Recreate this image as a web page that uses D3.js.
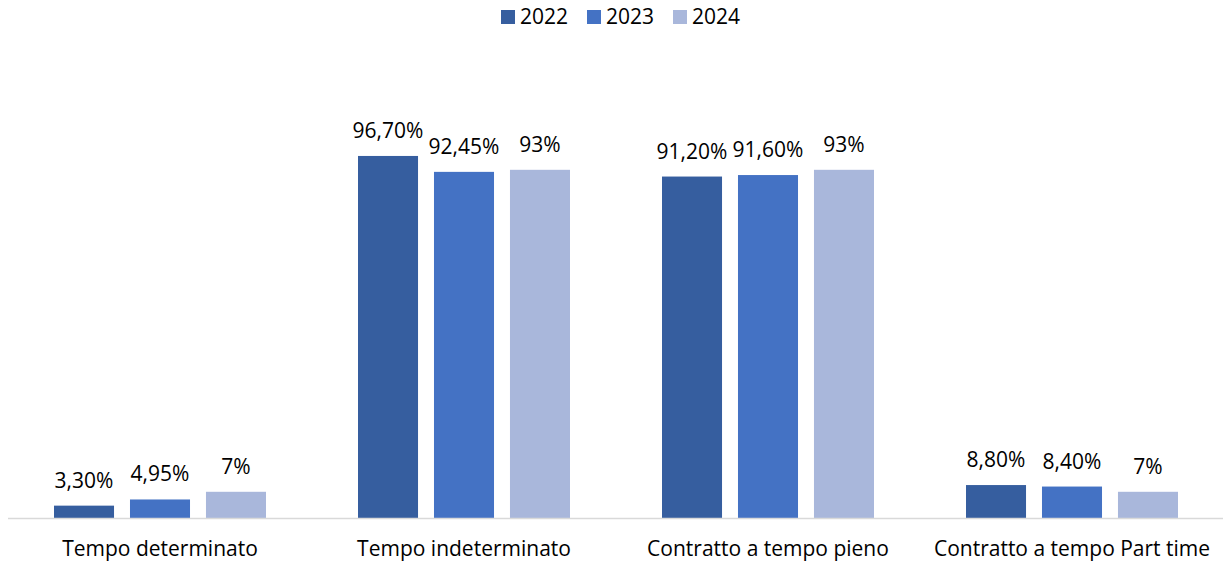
<!DOCTYPE html>
<html>
<head>
<meta charset="utf-8">
<script src="https://cdn.jsdelivr.net/npm/d3@7"></script>
<style>
  body { margin: 0; background: #fff; }
  text { font-family: "Open Sans", sans-serif; fill: #000; }
</style>
</head>
<body>
<div id="chart"></div>
<script>
var categories = ['Tempo determinato', 'Tempo indeterminato', 'Contratto a tempo pieno', 'Contratto a tempo Part time'];
var years = ['2022', '2023', '2024'];
var values2022 = [3.30, 96.70, 91.20, 8.80];
var values2023 = [4.95, 92.45, 91.60, 8.40];
var values2024 = [7, 93, 93, 7];
var colors = ['#365E9F', '#4472C4', '#A9B7DB'];

var width = 1223, height = 567;
var base = 518;
var fs = '21px';

var seriesVals = [values2022, values2023, values2024];
var data = [];
categories.forEach(function(c, ci) {
    years.forEach(function(y, yi) {
        data.push({ cat: c, year: y, yi: yi, value: seriesVals[yi][ci] });
    });
});

function fmt(v) {
    if (Math.round(v) === v) return v + '%';
    return v.toFixed(2).replace('.', ',') + '%';
}

var svg = d3.select('#chart').append('svg')
    .attr('width', width)
    .attr('height', height);

var x0 = d3.scaleBand().domain(categories).range([8, 1224]);
var x1 = d3.scaleBand().domain(years).range([0, 212]).paddingInner(0.21);
var y = d3.scaleLinear().domain([0, 100]).range([base, 143.6]);

// barre
var groups = svg.append('g').selectAll('g')
    .data(data)
    .enter().append('g')
    .attr('transform', function(d) {
        return 'translate(' + (x0(d.cat) + (x0.bandwidth() - 212) / 2 + x1(d.year)) + ', 0)';
    });

groups.append('rect')
    .attr('x', 0)
    .attr('width', x1.bandwidth())
    .attr('y', function(d) { return y(d.value); })
    .attr('height', function(d) { return base - y(d.value); })
    .attr('fill', function(d) { return colors[d.yi]; });

groups.append('text')
    .attr('x', x1.bandwidth() / 2)
    .attr('y', function(d) { return y(d.value) - 18; })
    .attr('text-anchor', 'middle')
    .style('font-size', fs)
    .text(function(d) { return fmt(d.value); });

// asse
svg.append('line')
    .attr('x1', 8).attr('x2', 1223)
    .attr('y1', base + 0.5).attr('y2', base + 0.5)
    .attr('stroke', '#D9D9D9')
    .attr('stroke-width', 1.3);

var xAxis = svg.append('g')
    .attr('transform', 'translate(0,' + base + ')')
    .call(d3.axisBottom(x0).tickSize(0).tickPadding(23));
xAxis.select('.domain').remove();
xAxis.selectAll('text')
    .style('font-size', fs)
    .attr('font-family', null);

// legenda
var legend = svg.append('g').attr('transform', 'translate(501, 10)');
var items = legend.selectAll('g')
    .data(years)
    .enter().append('g')
    .attr('transform', function(d, i) { return 'translate(' + i * 86 + ', 0)'; });
items.append('rect')
    .attr('width', 14).attr('height', 14)
    .attr('fill', function(d, i) { return colors[i]; });
items.append('text')
    .attr('x', 19).attr('y', 14)
    .style('font-size', fs)
    .text(function(d) { return d; });
</script>
</body>
</html>
